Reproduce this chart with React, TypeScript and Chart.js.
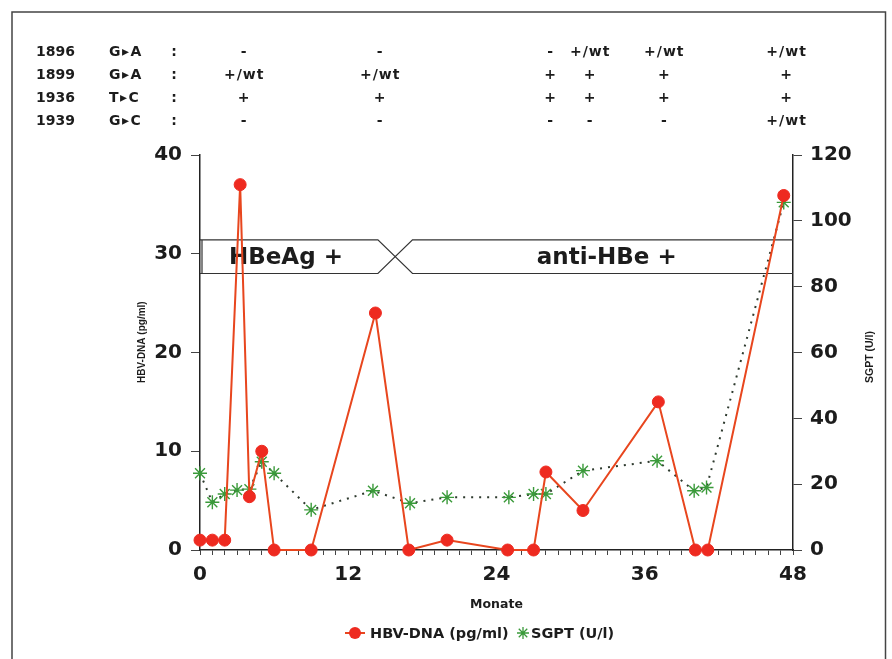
import React, { useEffect, useRef } from 'react';
import { Chart, registerables } from 'chart.js';

Chart.register(...registerables);

// ---- data ----
const hbvMonths = [0, 1, 2, 3.25, 4, 5, 6, 9, 14.2, 16.9, 20, 24.9, 27, 28, 31, 37.1, 40.1, 41.1, 47.25];
const hbvValues = [1, 1, 1, 37, 5.4, 10, 0, 0, 24, 0, 1, 0, 0, 7.9, 4, 15, 0, 0, 35.9];

const sgptMonths = [0, 1, 2, 3, 4, 5, 6, 9, 14, 17, 20, 25, 27, 28, 31, 37, 40, 41, 47.25];
const sgptValues = [23.3, 14.5, 17, 18.2, 18.5, 26.8, 23.3, 12.2, 18, 14.2, 16, 16, 17, 17, 24.1, 27.1, 18, 19, 105.6];

const xLabeledTicks = [0, 12, 24, 36, 48];
const hbvAxisMax = 40;
const hbvAxisStep = 10;
const sgptAxisMax = 120;
const sgptAxisStep = 20;

const hbvLabel = 'HBV-DNA (pg/ml)';
const sgptLabel = 'SGPT (U/l)';
const xTitle = 'Monate';
const hbvAxisTitle = 'HBV-DNA (pg/ml)';
const sgptAxisTitle = 'SGPT (U/l)';

// mutation table
const tableSites = ['1896', '1899', '1936', '1939'];
const tableMutations = ['G\u25B8A', 'G\u25B8A', 'T\u25B8C', 'G\u25B8C'];
const tableSampleMonths = [3.5, 14.5, 28.3, 31.5, 37.5, 47.4];
const tableRow1896 = ['-', '-', '-', '+/wt', '+/wt', '+/wt'];
const tableRow1899 = ['+/wt', '+/wt', '+', '+', '+', '+'];
const tableRow1936 = ['+', '+', '+', '+', '+', '+'];
const tableRow1939 = ['-', '-', '-', '-', '-', '+/wt'];
const tableRows = [tableRow1896, tableRow1899, tableRow1936, tableRow1939];

// serology band
const serologyLabels = ['HBeAg +', 'anti-HBe +'];
const seroconversionStart = 14.4;
const seroconversionEnd = 17.2;
const bandLow = 28;
const bandHigh = 31.4;

const RED_LINE = '#e8461e';
const RED_POINT = '#ee2a20';
const GREEN = '#3a9a3a';
const DOTS = '#2e3a2e';
const INK = '#1c1c1c';

const BOLD = "'DejaVu Sans'";

const decorPlugin = {
  id: 'decor',
  beforeDatasetsDraw(chart: any) {
    const { ctx, chartArea } = chart;
    const xs = chart.scales.x;
    const ys = chart.scales.y;
    const L = chartArea.left;
    const R = chartArea.right;
    const yt = ys.getPixelForValue(bandHigh);
    const yb = ys.getPixelForValue(bandLow);
    const x1 = xs.getPixelForValue(seroconversionStart);
    const x2 = xs.getPixelForValue(seroconversionEnd);
    ctx.save();
    ctx.strokeStyle = '#333';
    ctx.lineWidth = 1.2;
    ctx.beginPath();
    ctx.moveTo(L, yt);
    ctx.lineTo(x1, yt);
    ctx.lineTo(x2, yb);
    ctx.lineTo(R, yb);
    ctx.moveTo(L, yb);
    ctx.lineTo(x1, yb);
    ctx.lineTo(x2, yt);
    ctx.lineTo(R, yt);
    ctx.moveTo(L + 2, yt);
    ctx.lineTo(L + 2, yb);
    ctx.stroke();
    ctx.fillStyle = INK;
    ctx.font = `bold 23px ${BOLD}`;
    ctx.textAlign = 'center';
    ctx.textBaseline = 'middle';
    const ym = (yt + yb) / 2 + 1;
    ctx.fillText(serologyLabels[0], (L + x1) / 2 - 3, ym);
    ctx.fillText(serologyLabels[1], (x2 + R) / 2 + 4, ym);
    ctx.restore();
  },
  afterDraw(chart: any) {
    const { ctx } = chart;
    const xs = chart.scales.x;
    const W = chart.width;
    const H = chart.height;
    ctx.save();
    // frame
    ctx.strokeStyle = '#444';
    ctx.lineWidth = 1.5;
    ctx.beginPath();
    ctx.moveTo(12, H);
    ctx.lineTo(12, 12);
    ctx.lineTo(W - 6.5, 12);
    ctx.lineTo(W - 6.5, H);
    ctx.stroke();

    // table
    ctx.fillStyle = INK;
    ctx.textBaseline = 'middle';
    for (let r = 0; r < tableSites.length; r++) {
      const y = 52 + 23 * r;
      ctx.font = `bold 14px ${BOLD}`;
      ctx.textAlign = 'left';
      (ctx as any).letterSpacing = '0px';
      ctx.fillText(tableSites[r], 36, y);
      (ctx as any).letterSpacing = '1.5px';
      ctx.fillText(tableMutations[r], 109, y);
      ctx.textAlign = 'center';
      (ctx as any).letterSpacing = '0px';
      ctx.fillText(':', 174, y);
      (ctx as any).letterSpacing = '1px';
      for (let c = 0; c < tableSampleMonths.length; c++) {
        ctx.fillText(tableRows[r][c], xs.getPixelForValue(tableSampleMonths[c]) + 1, y);
      }
      (ctx as any).letterSpacing = '0px';
    }

    // axis titles (rotated, reading bottom to top)
    ctx.textAlign = 'left';
    ctx.font = "bold 10px 'Liberation Sans'";
    ctx.save();
    ctx.translate(142, 383);
    ctx.rotate(-Math.PI / 2);
    ctx.fillText(hbvAxisTitle, 0, 0);
    ctx.restore();
    ctx.font = "bold 10.5px 'Liberation Sans'";
    ctx.save();
    ctx.translate(870, 383);
    ctx.rotate(-Math.PI / 2);
    ctx.fillText(sgptAxisTitle, 0, 0);
    ctx.restore();

    // legend
    const ly = 633;
    ctx.strokeStyle = RED_LINE;
    ctx.lineWidth = 2;
    ctx.beginPath();
    ctx.moveTo(345, ly);
    ctx.lineTo(365, ly);
    ctx.stroke();
    ctx.fillStyle = RED_POINT;
    ctx.beginPath();
    ctx.arc(355, ly, 6, 0, Math.PI * 2);
    ctx.fill();
    ctx.strokeStyle = GREEN;
    ctx.lineWidth = 1.3;
    ctx.beginPath();
    for (let k = 0; k < 4; k++) {
      const a = (k * Math.PI) / 4;
      ctx.moveTo(523 - 6 * Math.cos(a), ly - 6 * Math.sin(a));
      ctx.lineTo(523 + 6 * Math.cos(a), ly + 6 * Math.sin(a));
    }
    ctx.stroke();
    ctx.fillStyle = INK;
    ctx.font = `bold 14.5px ${BOLD}`;
    ctx.textAlign = 'left';
    ctx.fillText(chart.data.datasets[0].label, 370, ly + 1);
    ctx.fillText(chart.data.datasets[1].label, 531, ly + 1);
    ctx.restore();
  },
};

export default function App() {
  const ref = useRef<HTMLCanvasElement | null>(null);
  useEffect(() => {
    if (!ref.current) return;
    const tickFont = { family: BOLD, weight: 'bold' as const, size: 20 };
    const chart = new Chart(ref.current, {
      type: 'line',
      data: {
        datasets: [
          {
            label: hbvLabel,
            data: hbvMonths.map((m, i) => ({ x: m, y: hbvValues[i] })),
            yAxisID: 'y',
            borderColor: RED_LINE,
            borderWidth: 2,
            pointStyle: 'circle',
            pointRadius: 6,
            pointBackgroundColor: RED_POINT,
            pointBorderColor: RED_POINT,
            pointBorderWidth: 1,
            tension: 0,
            clip: false as any,
            order: 0,
          },
          {
            label: sgptLabel,
            data: sgptMonths.map((m, i) => ({ x: m, y: sgptValues[i] })),
            yAxisID: 'y1',
            borderColor: DOTS,
            borderWidth: 2,
            borderDash: [2, 6],
            pointStyle: 'star',
            pointRadius: 7,
            pointBackgroundColor: GREEN,
            pointBorderColor: GREEN,
            pointBorderWidth: 1.4,
            tension: 0,
            clip: false as any,
            order: 1,
          },
        ],
      },
      options: {
        responsive: false,
        animation: false,
        layout: { padding: { left: 120, right: 39, top: 155, bottom: 41 } },
        plugins: { legend: { display: false }, tooltip: { enabled: false } },
        scales: {
          x: {
            type: 'linear',
            min: 0,
            max: 48,
            afterFit: (s: any) => {
              s.height = 68;
            },
            ticks: {
              stepSize: 1,
              autoSkip: false,
              maxRotation: 0,
              minRotation: 0,
              padding: 8,
              color: INK,
              font: tickFont,
              callback: (v: any) => (xLabeledTicks.includes(Number(v)) ? String(v) : ''),
            },
            grid: { drawOnChartArea: false, tickLength: 5, color: '#444', lineWidth: 1 },
            border: { color: '#222', width: 1.5 },
            title: {
              display: true,
              text: xTitle,
              color: INK,
              font: { family: BOLD, weight: 'bold', size: 12.5 },
              padding: { top: 0, bottom: 6 },
            },
          },
          y: {
            position: 'left',
            min: 0,
            max: hbvAxisMax,
            afterFit: (s: any) => {
              s.width = 80;
            },
            ticks: { stepSize: hbvAxisStep, padding: 9, color: INK, font: tickFont },
            grid: { drawOnChartArea: false, tickLength: 9, color: '#444', lineWidth: 1 },
            border: { color: '#222', width: 1.5 },
          },
          y1: {
            position: 'right',
            min: 0,
            max: sgptAxisMax,
            afterFit: (s: any) => {
              s.width = 60;
            },
            ticks: { stepSize: sgptAxisStep, padding: 8, color: INK, font: tickFont },
            grid: { drawOnChartArea: false, tickLength: 9, color: '#444', lineWidth: 1 },
            border: { color: '#222', width: 1.5 },
          },
        },
      } as any,
      plugins: [decorPlugin],
    });
    return () => chart.destroy();
  }, []);
  return (
    <div style={{ position: 'absolute', left: 0, top: 0, width: 892, height: 659, background: '#fff' }}>
      <canvas ref={ref} width={892} height={659} style={{ display: 'block' }} />
    </div>
  );
}
